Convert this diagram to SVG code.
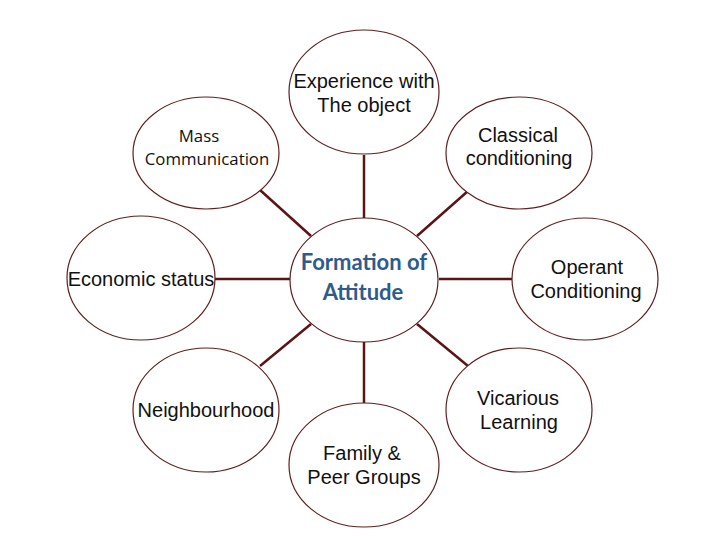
<svg xmlns="http://www.w3.org/2000/svg" width="728" height="546" viewBox="0 0 728 546">
<style>
.n{fill:#fff;stroke:#5e1f1f;stroke-width:1.2}
.t{font-family:"Liberation Sans",Arial,sans-serif;font-size:20px;fill:#111;text-anchor:middle}
.c{font-family:"Open Sans","Liberation Sans",sans-serif;font-size:16.8px;fill:#111;text-anchor:middle}
.m{font-family:Lato,"Open Sans",sans-serif;font-weight:bold;font-size:22px;fill:#2f5b8c;text-anchor:middle}
.l{stroke:#5a1414;stroke-width:2.5;fill:none}
</style>
<rect width="728" height="546" fill="#fff"/>
<g id="connectors">
<line class="l" x1="364" y1="155" x2="364" y2="218"/>
<line class="l" x1="364" y1="342" x2="364" y2="403"/>
<line class="l" x1="215" y1="279" x2="290" y2="279"/>
<line class="l" x1="439" y1="279" x2="513" y2="279"/>
<line class="l" x1="260" y1="190" x2="311" y2="236"/>
<line class="l" x1="468" y1="191" x2="417" y2="236"/>
<line class="l" x1="417" y1="324" x2="468" y2="366"/>
<line class="l" x1="311" y1="324" x2="260" y2="366"/>
</g>
<g id="center">
<ellipse class="n" cx="364" cy="280" rx="74" ry="62"/>
<text class="m" x="364" y="270">Formation of</text>
<text class="m" x="363" y="300">Attitude</text>
</g>
<g id="experience">
<ellipse class="n" cx="364" cy="92" rx="75" ry="62"/>
<text class="t" x="364" y="88">Experience with</text>
<text class="t" x="364" y="112">The object</text>
</g>
<g id="classical">
<ellipse class="n" cx="519" cy="153" rx="73" ry="56"/>
<text class="t" x="518" y="142">Classical</text>
<text class="t" x="519" y="165">conditioning</text>
</g>
<g id="operant">
<ellipse class="n" cx="585" cy="279" rx="73" ry="61"/>
<text class="t" x="587" y="274">Operant</text>
<text class="t" x="586" y="298">Conditioning</text>
</g>
<g id="vicarious">
<ellipse class="n" cx="519" cy="410" rx="73" ry="62"/>
<text class="t" x="518" y="405">Vicarious</text>
<text class="t" x="519" y="429">Learning</text>
</g>
<g id="family">
<ellipse class="n" cx="364" cy="465" rx="75" ry="62"/>
<text class="t" x="362" y="460">Family &amp;</text>
<text class="t" x="364" y="484">Peer Groups</text>
</g>
<g id="neighbourhood">
<ellipse class="n" cx="206" cy="410" rx="73" ry="62"/>
<text class="t" x="206" y="417">Neighbourhood</text>
</g>
<g id="economic">
<ellipse class="n" cx="141" cy="278" rx="74" ry="62"/>
<text class="t" x="141" y="286">Economic status</text>
</g>
<g id="mass">
<ellipse class="n" cx="206" cy="153" rx="73" ry="56"/>
<text class="c" x="199" y="142">Mass</text>
<text class="c" x="207" y="165">Communication</text>
</g>
</svg>
